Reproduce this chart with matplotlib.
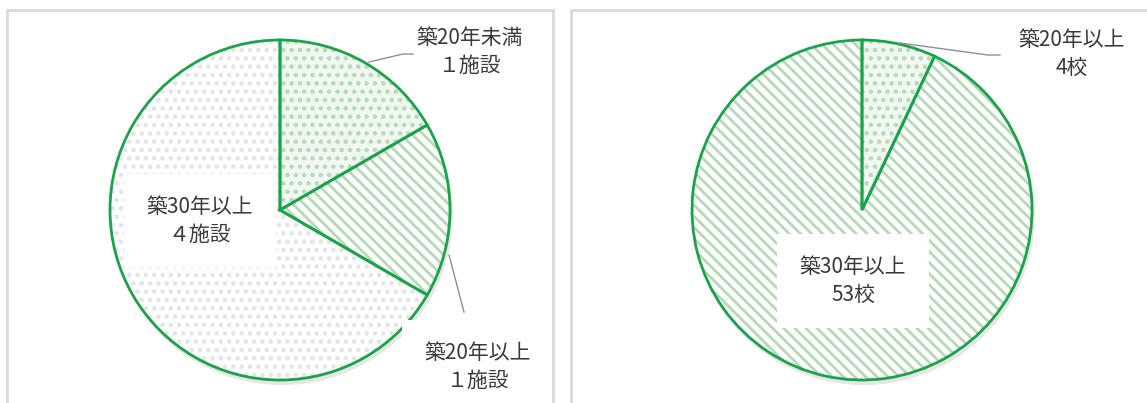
import matplotlib.pyplot as plt
from matplotlib.patches import Rectangle

plt.rcParams['font.family'] = ['Noto Sans CJK JP', 'DejaVu Sans']

# 左: 施設の築年数
LEFT_NAMES = ["築20年未満", "築20年以上", "築30年以上"]
LEFT_VALUES = [1, 1, 4]
LEFT_UNITS = ["１施設", "１施設", "４施設"]

# 右: 学校の築年数
RIGHT_NAMES = ["築20年以上", "築30年以上"]
RIGHT_VALUES = [4, 53]
RIGHT_UNITS = ["4校", "53校"]

W, H = 1147, 403
GREEN = "#1aa34a"
TEXT = "#3a3a3a"

plt.rcParams['hatch.linewidth'] = 2.0

fig = plt.figure(figsize=(W / 100, H / 100), dpi=100)
ax = fig.add_axes([0, 0, 1, 1])
ax.set_xlim(0, W)
ax.set_ylim(0, H)
ax.axis("off")

# panel borders (drawn on top of label boxes)
for x0, x1 in [(7, 553), (571, 1160)]:
    ax.add_patch(Rectangle((x0, -20), x1 - x0, H - 10 + 20, fill=False,
                           edgecolor="#d9d9d9", linewidth=2, zorder=10))


def draw_pie(values, center, styles):
    # shadow
    ax.pie([1], colors=["#e6e6e6"], center=(center[0] + 2, center[1] - 4),
           radius=171, wedgeprops=dict(linewidth=0))
    wedges, _ = ax.pie(values, startangle=90, counterclock=False,
                       center=center, radius=170,
                       wedgeprops=dict(linewidth=0))
    for w, (face, hatch, hcol) in zip(wedges, styles):
        w.set_facecolor(face)
        w.set_hatch(hatch)
        w.set_edgecolor(hcol)
        w.set_linewidth(0)
    ax.pie(values, startangle=90, counterclock=False,
           center=center, radius=170,
           wedgeprops=dict(fill=False, edgecolor=GREEN, linewidth=2))
    ax.set_xlim(0, W)
    ax.set_ylim(0, H)
    ax.set_aspect("equal")


dots_green = ("#f1f8f1", "..", "#b9d9b9")
dash_green = ("#ffffff", "\\\\\\", "#b5dab5")
dots_gray = ("#ffffff", "..", "#e4e4e4")

draw_pie(LEFT_VALUES, (280, 193), [dots_green, dash_green, dots_gray])
draw_pie(RIGHT_VALUES, (862, 193), [dots_green, dash_green])

fs = 15
box = dict(facecolor="white", edgecolor="none", pad=16)
# left labels
ax.plot([369, 403, 413], [H - 62, H - 54, H - 54], color="#909090", lw=1)
ax.text(470, H - 52, LEFT_NAMES[0] + "\n" + LEFT_UNITS[0], ha="center", va="center",
        fontsize=fs, color=TEXT, linespacing=1.35)
ax.plot([449, 464], [H - 255, H - 312], color="#909090", lw=1)
ax.text(478, H - 367, LEFT_NAMES[1] + "\n" + LEFT_UNITS[1], ha="center", va="center",
        fontsize=fs, color=TEXT, linespacing=1.35, bbox=box)
ax.text(200, H - 221, LEFT_NAMES[2] + "\n" + LEFT_UNITS[2], ha="center", va="center",
        fontsize=fs, color=TEXT, linespacing=1.35, bbox=box)

# right labels
ax.plot([900, 988, 1000], [H - 43, H - 55, H - 55], color="#909090", lw=1)
ax.text(1072, H - 54, RIGHT_NAMES[0] + "\n" + RIGHT_UNITS[0], ha="center", va="center",
        fontsize=fs, color=TEXT, linespacing=1.35)
ax.text(853, H - 281, RIGHT_NAMES[1] + "\n" + RIGHT_UNITS[1], ha="center", va="center",
        fontsize=fs, color=TEXT, linespacing=1.35, bbox=box)

fig.savefig("out.png", dpi=100)
